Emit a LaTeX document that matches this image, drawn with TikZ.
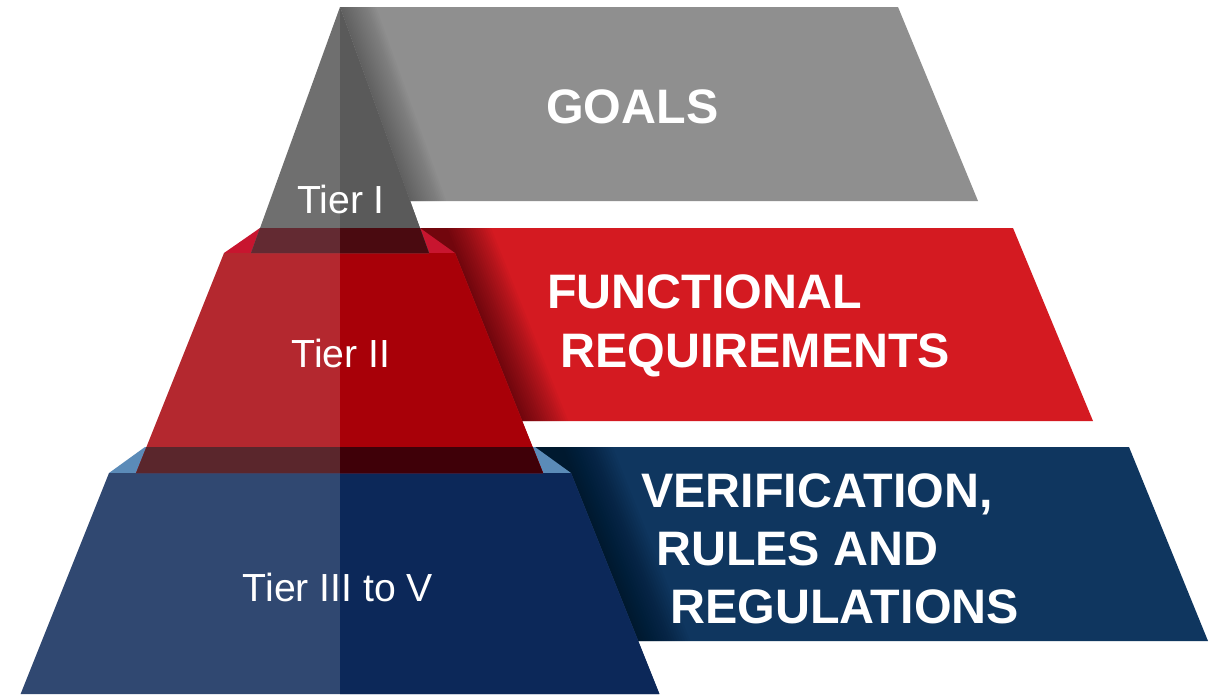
\documentclass[tikz,border=0pt]{standalone}
\usepackage{fontspec}
\setmainfont{Liberation Sans}
\definecolor{greyban}{HTML}{8F8F8F}
\definecolor{greyL}{HTML}{6F6F6F}
\definecolor{greyR}{HTML}{5A5A5A}
\definecolor{redban}{HTML}{D41A21}
\definecolor{redledge}{HTML}{C8152F}
\definecolor{redL}{HTML}{B4282F}
\definecolor{redR}{HTML}{A80008}
\definecolor{bandTL}{HTML}{632A32}
\definecolor{bandTR}{HTML}{4A0A10}
\definecolor{blueban}{HTML}{0F365F}
\definecolor{blueledge}{HTML}{5B8BB8}
\definecolor{blueL}{HTML}{304871}
\definecolor{blueR}{HTML}{0C2859}
\definecolor{bandBL}{HTML}{5A262C}
\definecolor{bandBR}{HTML}{3F0008}
\begin{document}
\begin{tikzpicture}[x=1pt,y=-1pt,
  bigtext/.style={text=white,inner sep=0pt,anchor=base west,font=\fontsize{48.4}{58}\bfseries\selectfont},
  tiertext/.style={text=white,inner sep=0pt,anchor=base,font=\fontsize{39.2}{47}\selectfont},
  shadowstrip/.style={fill=black,fill opacity=0.028},
  lightstrip/.style={fill=black,fill opacity=0.016}]
\useasboundingbox (0,0) rectangle (1214,694);
\fill[white] (0,0) rectangle (1214,694);
% ---------- banners ----------
\fill[greyban] (340,7) -- (898,7) -- (978,201) -- (410,201) -- cycle;
\begin{scope}
  \clip (340,7) -- (898,7) -- (978,201) -- (410,201) -- cycle;
  \foreach \i in {1,...,20}
    \fill[lightstrip] (310,0) -- ({337.5+1.8*\i},0) -- ({413.5+1.8*\i},210) -- (386,210) -- cycle;
\end{scope}
\fill[redban] (420,228) -- (1013,228) -- (1093,421) -- (522,421) -- cycle;
\begin{scope}
  \clip (420,228) -- (1013,228) -- (1093,421) -- (522,421) -- cycle;
  \foreach \i in {1,...,20}
    \fill[shadowstrip] (400,220) -- ({441.8+2.3*\i},220) -- ({525.8+2.3*\i},430) -- (485,430) -- cycle;
\end{scope}
\fill[blueban] (535,447) -- (1129,447) -- (1208,641) -- (638,641) -- cycle;
\begin{scope}
  \clip (535,447) -- (1129,447) -- (1208,641) -- (638,641) -- cycle;
  \foreach \i in {1,...,20}
    \fill[shadowstrip] (515,440) -- ({557.8+2.6*\i},440) -- ({641.8+2.6*\i},650) -- (600,650) -- cycle;
\end{scope}
% ---------- blue tier ----------
\fill[blueledge] (145,447) -- (535,447) -- (571,473) -- (109,473) -- cycle;
\fill[blueL] (109,473) -- (571,473) -- (659.4,694) -- (20.6,694) -- cycle;
\begin{scope}
  \clip (340,0) rectangle (1214,694);
  \fill[blueR] (109,473) -- (571,473) -- (659.4,694) -- (20.6,694) -- cycle;
\end{scope}
% ---------- red tier ----------
\fill[redledge] (260,228) -- (420,228) -- (455,253) -- (224,253) -- cycle;
\fill[redL] (224,253) -- (455,253) -- (543,473) -- (136,473) -- cycle;
\fill[bandBL] (146.4,447) -- (532.6,447) -- (543,473) -- (136,473) -- cycle;
\begin{scope}
  \clip (340,0) rectangle (1214,694);
  \fill[redR] (224,253) -- (455,253) -- (543,473) -- (136,473) -- cycle;
  \fill[bandBR] (146.4,447) -- (532.6,447) -- (543,473) -- (136,473) -- cycle;
\end{scope}
% ---------- grey tier ----------
\fill[greyL] (340,7) -- (429,253) -- (251,253) -- cycle;
\fill[bandTL] (260,228) -- (420,228) -- (429,253) -- (251,253) -- cycle;
\begin{scope}
  \clip (340,0) rectangle (1214,694);
  \fill[greyR] (340,7) -- (429,253) -- (251,253) -- cycle;
  \fill[bandTR] (260,228) -- (420,228) -- (429,253) -- (251,253) -- cycle;
\end{scope}
% ---------- texts ----------
\node[bigtext] (goals) at (546,123) {GOALS};
\node[bigtext] (func) at (547,308) {FUNCTIONAL};
\node[bigtext] (req) at (560,367) {REQUIREMENTS};
\node[bigtext] (verif) at (641,507) {VERIFICATION,};
\node[bigtext] (rules) at (656,565) {RULES AND};
\node[bigtext] (regs) at (670,623) {REGULATIONS};
\node[tiertext] (t1) at (341,213) {Tier I};
\node[tiertext] (t2) at (341,367) {Tier II};
\node[tiertext] (t3) at (338,601) {Tier III to V};
\end{tikzpicture}
\end{document}
